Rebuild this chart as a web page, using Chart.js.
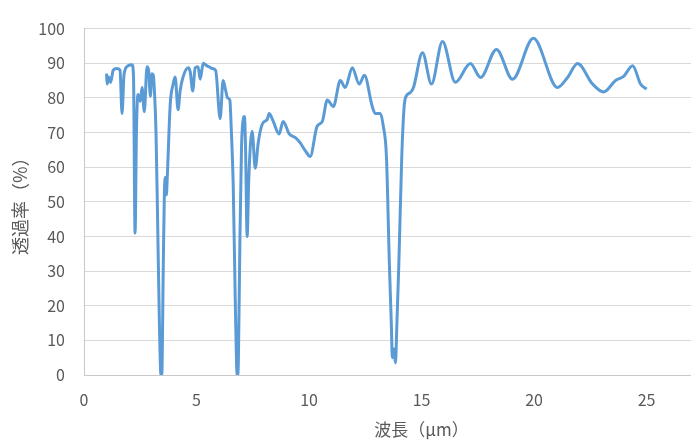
<!DOCTYPE html>
<html lang="ja">
<head>
<meta charset="UTF-8" />
<title>透過率</title>
<style>
  html, body { margin: 0; padding: 0; background: #fff; overflow: hidden; }
  .box { width: 783px; height: 441px; }
</style>
</head>
<body>
<div class="box"><canvas id="spectrum" width="783" height="441"></canvas></div>
<script src="https://cdn.jsdelivr.net/npm/chart.js"></script>
<script>
// 波長 (μm)
const wavelength = [
  1.00, 1.03, 1.10, 1.18, 1.30, 1.45, 1.60, 1.69, 1.78, 1.96,
  2.14, 2.20, 2.27, 2.33, 2.40, 2.50, 2.58, 2.68, 2.80, 2.87,
  2.95, 3.02, 3.08, 3.13, 3.20, 3.27, 3.35, 3.42, 3.46, 3.52,
  3.57, 3.62, 3.66, 3.70, 3.83, 3.96, 4.05, 4.18, 4.27, 4.40,
  4.63, 4.72, 4.83, 4.94, 5.07, 5.16, 5.30, 5.45, 5.55, 5.69,
  5.85, 6.05, 6.18, 6.30, 6.38, 6.48, 6.55, 6.63, 6.72, 6.78,
  6.82, 6.86, 6.93, 7.00, 7.08, 7.13, 7.18, 7.25, 7.32, 7.40,
  7.47, 7.61, 7.74, 7.92, 8.14, 8.23, 8.41, 8.67, 8.85, 9.12,
  9.39, 9.61, 9.83, 10.05, 10.36, 10.59, 10.81, 11.08, 11.39, 11.61,
  11.92, 12.23, 12.46, 12.81, 12.94, 13.17, 13.30, 13.44, 13.57, 13.66,
  13.70, 13.77, 13.84, 13.90, 13.99, 14.12, 14.22, 14.30, 14.50, 14.64,
  15.04, 15.44, 15.93, 16.50, 17.17, 17.62, 18.33, 19.04, 19.97, 21.04,
  21.49, 21.93, 22.60, 23.09, 23.62, 23.98, 24.38, 24.73, 25.00
];
// 透過率 (%)
const transmittance = [
  87, 84, 86, 84.5, 88, 88.5, 88, 75.5, 86.8, 89.3,
  89.6, 86, 41, 70, 81, 79, 83, 76, 89, 88,
  80.5, 87, 86.5, 82, 70, 45, 15, 0, 0.5, 30,
  52, 57, 52, 57, 78, 84, 86, 76.6, 82, 86,
  88.7, 87.5, 82, 88.7, 89, 85.4, 90, 89.3, 89, 88.5,
  87.9, 74, 85, 82, 80, 79.4, 70, 55, 22, 3,
  0, 4, 40, 66, 74, 74.6, 65, 40, 56, 67,
  70.4, 59.7, 67, 72.4, 73.8, 75.5, 73.2, 69.6, 73.2, 69.6,
  68.5, 67, 64.8, 63.1, 71.8, 73.2, 79.4, 77.5, 85, 83,
  88.7, 84, 86.5, 77.5, 75.5, 75.5, 71.8, 63, 32, 14,
  5, 7.5, 3.5, 14, 32, 63, 77, 80.3, 81.5, 83,
  93, 84, 96.3, 84.5, 89.9, 85.9, 94, 85.4, 97.2, 83,
  85.9, 89.9, 84, 81.7, 85, 86.2, 89.3, 84, 82.5
];
const xTicks = [0, 5, 10, 15, 20, 25, 30];
const yTicks = [0, 10, 20, 30, 40, 50, 60, 70, 80, 90, 100];

const points = wavelength.map((w, i) => ({ x: w, y: transmittance[i] }));
const jp = "'Noto Sans CJK JP', 'Noto Sans', sans-serif";

new Chart(document.getElementById("spectrum").getContext("2d"), {
  type: "line",
  data: {
    datasets: [{
      data: points,
      borderColor: "#5b9bd5",
      borderWidth: 3,
      pointRadius: 0,
      fill: false,
      cubicInterpolationMode: "monotone"
    }]
  },
  options: {
    responsive: false,
    animation: false,
    layout: { padding: { top: 20, right: 12, left: 0, bottom: 0 } },
    plugins: { legend: { display: false }, tooltip: { enabled: false } },
    scales: {
      x: {
        type: "linear",
        min: 0,
        max: 30,
        afterBuildTicks: (s) => { s.ticks = xTicks.map(v => ({ value: v })); },
        afterFit: (s) => { s.height = 66; },
        grid: { display: false, drawTicks: false },
        border: { display: true, color: "#c8c8c8", width: 1 },
        ticks: { color: "#595959", font: { family: jp, size: 16 }, padding: 15, maxRotation: 0 },
        title: { display: true, text: "波長（μm）", color: "#595959", font: { family: jp, size: 17 }, padding: { top: 0, bottom: 1 } }
      },
      y: {
        min: 0,
        max: 100,
        afterBuildTicks: (s) => { s.ticks = yTicks.map(v => ({ value: v })); },
        afterFit: (s) => { s.width = 84; },
        grid: { color: "#d9d9d9", lineWidth: 1, drawTicks: false },
        border: { display: true, color: "#c8c8c8", width: 1 },
        ticks: { color: "#595959", font: { family: jp, size: 16 }, padding: 19 },
        title: { display: true, text: "透過率（%）", color: "#595959", font: { family: jp, size: 18 }, padding: { top: 9, bottom: 0 } }
      }
    }
  }
});
</script>
</body>
</html>
